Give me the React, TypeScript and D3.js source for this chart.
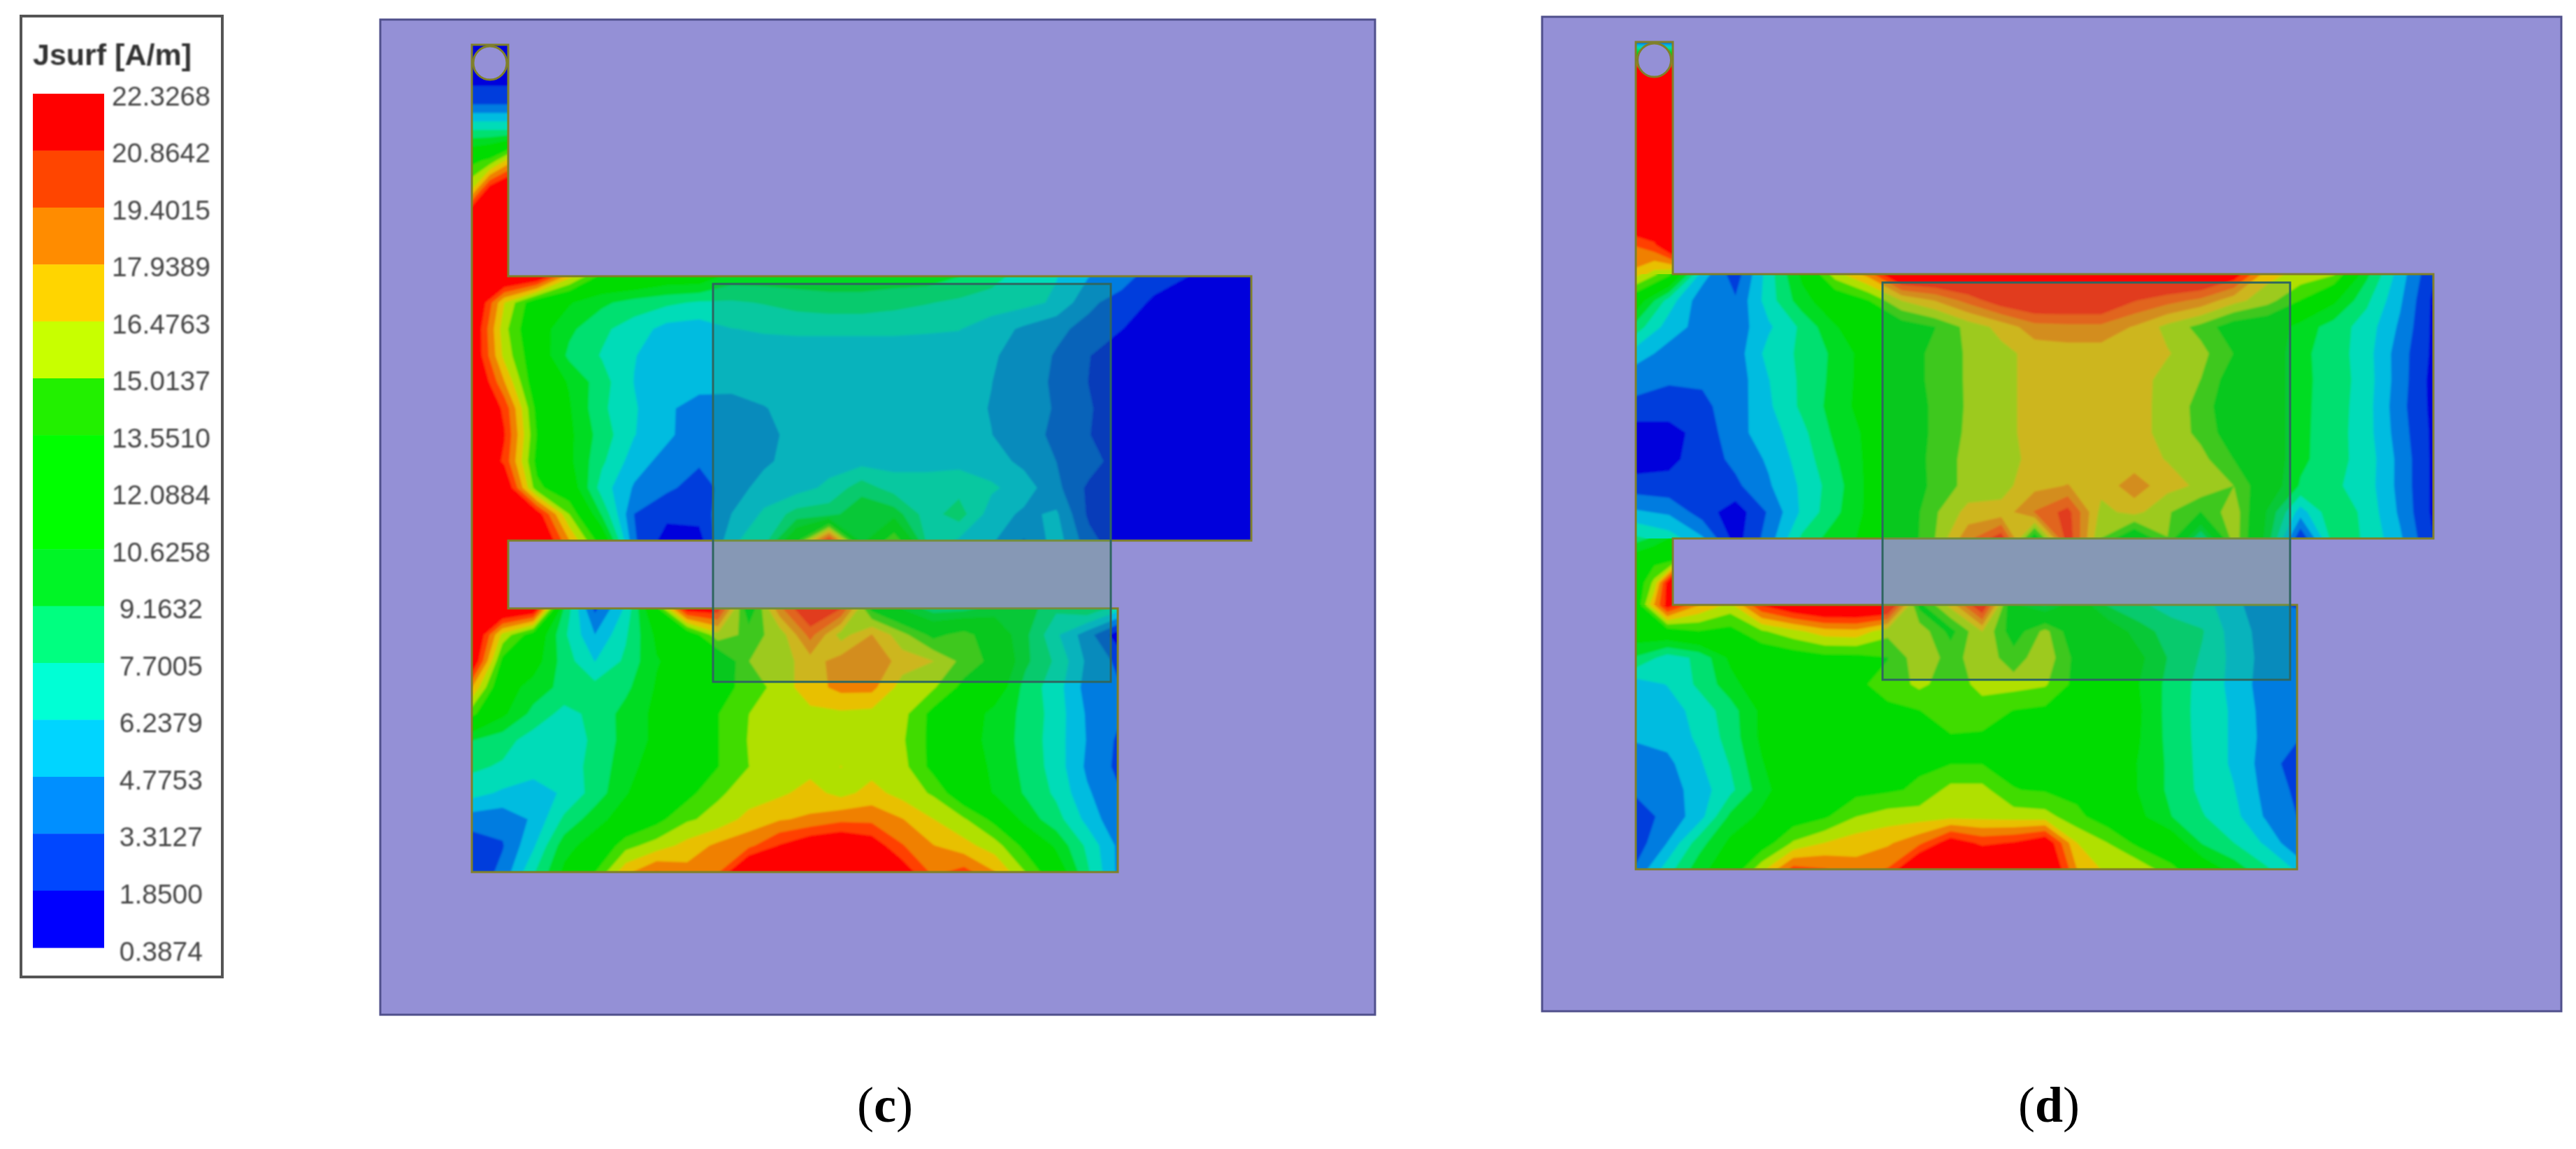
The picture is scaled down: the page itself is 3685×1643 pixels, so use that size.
import * as d3 from "d3";
import { useEffect } from "react";

// legend, top down in the picture
const legendLabels = ["22.3268", "20.8642", "19.4015", "17.9389", "16.4763", "15.0137", "13.5510", "12.0884", "10.6258", "9.1632", "7.7005", "6.2379", "4.7753", "3.3127", "1.8500", "0.3874"];
const legendColors = ["#ff0000", "#ff4500", "#ff8c00", "#ffd500", "#c8ff00", "#22f000", "#00ff00", "#00ff00", "#00f526", "#00ff80", "#00ffd5", "#00d5ff", "#008fff", "#0047ff", "#0000ff"];
// same bands as they come out on the plots (a bit darker than the legend)
const plotColors = ["#ff0000", "#ff4000", "#f08000", "#e8c000", "#b0e000", "#40dc00", "#00dc00", "#00dc00", "#00dc20", "#00e070", "#00dcb8", "#00bce0", "#007ce0", "#003cdc", "#0000dc"];

const levels = legendLabels.map(Number).reverse();
const bandColors = [...plotColors].reverse();

// Jsurf samples in A/m. Rows go top to bottom, columns left to right.
const feedC = [
  [1, 1, 1],
  [1, 1, 1],
  [3, 3, 3],
  [8, 8, 8],
  [13, 14, 17],
  [16.5, 22, 24],
  [24, 24, 24],
  [24, 24, 24],
  [24, 24, 24],
];
const linkC = [
  [24, 24, 24],
  [24, 24, 24],
];
const upperC = [
  [24, 24, 23, 17, 13, 13, 12, 12, 10, 10, 10, 10, 10, 10, 10, 9.2, 8.3, 7, 6.3, 4.8, 4, 2.5, 1.9, 1, 0.6],
  [24, 16.5, 12, 10.8, 9.5, 8.5, 8, 7.5, 7.5, 7.8, 8.3, 8.6, 8.6, 8.2, 7.8, 7.4, 7, 6.7, 6, 3.6, 2.7, 1.6, 0.8, 0.5, 0.4],
  [23, 15.5, 11.5, 9.5, 8, 7, 5.7, 5.5, 6.2, 6.4, 6.5, 6.5, 6.5, 6.5, 6.4, 6.3, 5.5, 4.5, 3.6, 2.9, 1.9, 0.9, 0.4, 0.4, 0.4],
  [23, 16, 12, 8.8, 7.6, 6.3, 5.5, 5.5, 5.5, 5.5, 5.5, 5.5, 5.5, 5.5, 5.5, 5.4, 5, 4, 3.2, 1.9, 0.8, 0.4, 0.4, 0.4, 0.4],
  [24, 18, 12, 10.5, 8.3, 6.2, 5.3, 5.3, 5.4, 5.4, 5.4, 5.4, 5.4, 5.4, 5.4, 5.4, 4.8, 3.9, 3.1, 1.8, 0.7, 0.4, 0.4, 0.4, 0.4],
  [24, 20.5, 13, 10.8, 8, 6.4, 5, 4.2, 4, 4.7, 5.3, 5.4, 5.4, 5.4, 5.4, 5.3, 4.7, 3.9, 3.2, 2, 0.8, 0.4, 0.4, 0.4, 0.4],
  [24, 21, 13.5, 11, 8.5, 6.3, 5.1, 3.8, 3.7, 4.2, 5.4, 5.4, 5.4, 5.4, 5.4, 5.4, 4.8, 3.9, 3, 1.9, 0.7, 0.4, 0.4, 0.4, 0.4],
  [24, 20.5, 13, 11, 8, 5.5, 4.2, 3.5, 3.6, 4.5, 5.4, 5.6, 5.7, 5.7, 5.7, 5.8, 5.4, 4.4, 3.3, 2.6, 0.9, 0.4, 0.4, 0.4, 0.4],
  [24, 23, 14, 12, 7, 4.6, 3.6, 2.7, 4, 5.4, 5.6, 6.6, 8.5, 7, 7, 7.2, 6.5, 5.5, 3.7, 1.5, 0.7, 0.4, 0.4, 0.4, 0.4],
  [24, 24, 22, 15, 9, 3.3, 2.2, 2.4, 4.8, 6.5, 8.3, 8.5, 10.5, 10, 7, 8.4, 5.5, 4.5, 5, 1.5, 0.6, 0.4, 0.4, 0.4, 0.4],
  [24, 24, 24, 18, 12.5, 3.5, 1.2, 1.2, 6, 7, 13, 22, 10, 15, 7.5, 6, 5, 3.2, 5.5, 2.4, 0.6, 0.4, 0.4, 0.4, 0.4],
];
const lowerC = [
  [24, 24, 23, 9, 3, 6.5, 13, 22, 22, 12, 19, 23, 21, 13, 10.5, 8.4, 8.6, 10, 10, 8, 9, 7],
  [24, 16, 12.5, 8, 4.8, 7.5, 11, 12, 16, 14.5, 15.5, 20, 15.8, 18, 15.5, 13, 14.3, 12, 9.5, 6.5, 4, 1],
  [23, 13, 11.5, 8.5, 6.2, 8, 10.5, 11.5, 11.5, 15, 15.7, 17.3, 18.6, 19.3, 17.2, 16.5, 14.5, 13, 9.5, 7.4, 4.5, 3],
  [18, 11.5, 10, 8.7, 8.2, 8.8, 10.8, 12, 13, 14, 15.7, 17.3, 18.4, 18.4, 15.8, 15.2, 13, 12, 8.6, 6.9, 4.2, 3.5],
  [14, 11, 8.7, 7.2, 8.1, 9.7, 11, 12.5, 13.5, 15, 15.8, 16.1, 16.2, 16, 15.5, 13, 12, 10, 8.8, 7, 4.6, 3.6],
  [9.2, 8.3, 7, 6.8, 8, 9.7, 11, 12.5, 13.5, 15.1, 15.7, 15.8, 15.8, 15.6, 15.2, 13, 11.5, 10, 8.7, 6.9, 4.7, 3.1],
  [8, 7.5, 7, 6.9, 8.2, 10, 11.5, 13, 13.5, 15, 15.8, 16, 16.5, 15.9, 15.5, 13, 12, 10.2, 8.8, 7, 4.5, 3],
  [6.8, 6, 5.4, 6.5, 8.3, 10.5, 12, 13, 14.8, 15.6, 16.2, 17, 16, 17, 15.9, 14.8, 12, 10.5, 9, 7.4, 5, 3.5],
  [4, 3.8, 5, 8, 10, 11.5, 13, 14.8, 15.5, 17, 17.8, 18.2, 19, 19, 18, 16.5, 15.2, 13, 10, 8.3, 5.8, 3.6],
  [2.5, 3.2, 6, 10, 11.5, 14.5, 15.7, 17, 18.3, 19, 21, 22.5, 23, 22, 19.5, 18, 17, 15.7, 13, 10.3, 7.4, 4.5],
  [2, 3.8, 7.5, 11, 13.5, 17.5, 19.5, 18.5, 19.2, 24, 24, 24, 24, 24, 22, 19, 20, 18, 15, 12, 8, 4.5],
];

const feedD = [
  [3, 3, 3],
  [24, 24, 24],
  [24, 24, 24],
  [24, 24, 24],
  [24, 24, 24],
  [24, 24, 24],
  [24, 24, 24],
  [19.5, 20.5, 24],
  [17.5, 15.8, 15],
];
const linkD = [
  [8.5, 9.5, 11],
  [12, 13, 13.5],
  [12, 15.5, 24],
  [12, 18, 23],
];
const upperD = [
  [17, 14, 5.5, 2.5, 7, 11, 15.8, 18.5, 24, 24, 24, 24, 24, 24, 24, 24, 24, 24, 22, 17, 16, 15.2, 9.5, 5.5, 2],
  [12, 7, 3.8, 3.5, 7, 10, 12, 13.5, 16.5, 18, 20, 22, 23, 23, 23, 21, 20, 19, 17, 15.6, 13.5, 11, 8, 5, 1.5],
  [8.5, 5.5, 4.2, 3.9, 6, 8, 10.5, 12, 12.5, 13.5, 15.5, 17, 18.8, 19, 19, 17.8, 16, 14.5, 12.5, 12, 10, 8.5, 7, 4.5, 1.5],
  [5.5, 4.2, 4, 4, 6.8, 8, 9.5, 11.5, 12.5, 14, 15.2, 16, 17, 17.2, 17.2, 17, 16.6, 15.5, 13.5, 12, 9.5, 8.5, 6.8, 4, 1.5],
  [3.8, 3.5, 3.5, 3.9, 6.2, 8, 9.6, 11.5, 12.5, 14, 15.2, 16, 17, 17.3, 17.3, 17.2, 15.9, 15, 12.5, 12, 9.5, 8.6, 6.9, 4, 1.3],
  [3, 2.6, 3, 4, 6, 8, 9.8, 11.5, 12.5, 13.8, 15.2, 16, 17, 17.3, 17.3, 17, 16, 14.5, 12, 12, 9.5, 8.5, 6.8, 3.8, 1.4],
  [1, 1.3, 2.4, 4.3, 5.5, 7.3, 9.5, 11, 12.5, 13.8, 15.3, 16, 17, 17.2, 17.2, 17, 16, 14.6, 12.5, 12, 9.5, 8.4, 6.8, 4, 1.5],
  [1, 1.5, 2.5, 3.7, 5, 6.9, 9, 11, 12.3, 14, 15.5, 16, 16.8, 17, 17.2, 17, 16.4, 15.5, 13.5, 12, 9.5, 8.3, 7, 4.3, 1.5],
  [2.5, 2.3, 2, 3, 4.6, 6.5, 8.5, 11, 12, 14, 15.5, 15.9, 17.5, 18, 17, 18.8, 17, 16.2, 15, 12, 9, 8, 6.9, 4.3, 1.5],
  [5, 4.5, 2.6, 1, 3.5, 6.5, 8.8, 11, 12, 14.8, 17, 17, 19.5, 21.5, 16, 17, 15.2, 13.5, 16, 10.5, 5.5, 9, 7.2, 4.5, 1.5],
  [8, 7, 5, 1.2, 4, 8, 10, 11, 12, 15, 19, 22, 12, 22, 15, 11.5, 15, 7.5, 16, 10, 2, 8.5, 7.5, 5, 1.8],
];
const lowerD = [
  [12, 22, 18, 16, 21, 23, 24, 24, 24, 13, 17, 23, 11, 9, 12, 9, 8, 7, 6.8, 5.3, 3.5, 3.2],
  [12, 12.5, 13.5, 13, 14.8, 16, 17.3, 17.5, 15.5, 16, 13, 16.5, 12.5, 15.5, 12, 12, 9.8, 8.5, 7.8, 5.5, 4.2, 4],
  [9, 7, 8, 11, 12, 12.5, 13, 13, 13.5, 16, 14.5, 15.8, 14.3, 16, 13, 12, 11, 8.9, 7.5, 5.8, 4.2, 4],
  [5.5, 6.3, 8, 10, 12, 12.5, 13, 13.3, 14, 15.4, 14.2, 15.5, 15.6, 15.2, 13, 12, 10.6, 8.6, 7.2, 5.8, 4, 3.8],
  [5.3, 5.5, 6.8, 8.5, 11, 12.5, 13, 13, 13.3, 13.5, 14.6, 14.4, 13.5, 13.2, 13, 12, 10.8, 8.5, 7.2, 6, 4.2, 3.8],
  [5, 5.3, 6.5, 8.3, 11, 12.5, 13, 13, 13.2, 13.2, 13.4, 13.3, 13.2, 13.1, 13, 12, 10.7, 8.6, 7.2, 6, 4.3, 3.5],
  [3.9, 4.4, 6, 7.8, 10.5, 12.5, 13, 13, 13.2, 13.3, 13.5, 13.5, 13.2, 13, 13, 12, 10.5, 8.8, 7.2, 6, 4.1, 2.5],
  [3.6, 4, 5.5, 7.3, 10, 12, 13, 13, 13.3, 13.8, 15.5, 15.5, 13.6, 13.4, 13, 12.3, 10.5, 8.8, 7.3, 6.3, 4.3, 3],
  [2.5, 3.8, 5.5, 9.5, 11, 12.5, 13.3, 15, 15.7, 15.8, 16, 16, 15.8, 15.6, 14, 12.5, 11, 9.2, 7.8, 6.7, 4.6, 3.3],
  [2.5, 4.8, 8.5, 11, 12.5, 15.2, 16.5, 17.3, 17.7, 19, 22, 20.5, 21, 22.5, 16.5, 15, 13, 12, 9, 7.7, 6, 3.5],
  [3.5, 7, 10, 12, 16, 20, 19.5, 18.5, 19.5, 24, 24, 24, 24, 24, 18, 16, 16, 14, 12, 10, 8, 6],
];

const WIDTH = 3685;
const HEIGHT = 1643;
const BG = "#9490d6";
const EDGE = "#80802a";

const panelC = { id: "c", x0: 544, x1: 1967, y0: 28, y1: 1451, feedL: 675, feedR: 727, feedT: 64, upT: 395, upB: 773, upR: 1790, lowT: 870, lowB: 1247, lowR: 1599, ovL: 1020, ovR: 1589, ovT: 406, ovB: 975, cy: 90, labelX: 1266 };
const panelD = { id: "d", x0: 2206, x1: 3664, y0: 24, y1: 1446, feedL: 2340, feedR: 2393, feedT: 60, upT: 392, upB: 770, upR: 3481, lowT: 865, lowB: 1243, lowR: 3286, ovL: 2693, ovR: 3276, ovT: 404, ovB: 972, cy: 86, labelX: 2931 };

type Panel = typeof panelC;

// filled contour bands of one sampled region, stretched over a pixel box
function FieldBands({ rows, x0, x1, y0, y1, id }: { rows: number[][]; x0: number; x1: number; y0: number; y1: number; id: string }) {
  const n = rows[0].length;
  const m = rows.length;
  const contours = d3.contours().size([n, m]).thresholds(levels.slice(1, -1))(rows.flat());
  const xs = d3.scaleLinear([0.5, n - 0.5], [x0, x1]);
  const ys = d3.scaleLinear([0.5, m - 0.5], [y0, y1]);
  const path = d3.geoPath(
    d3.geoTransform({
      point(x, y) {
        this.stream.point(xs(x), ys(y));
      },
    })
  );
  return (
    <g clipPath={`url(#${id})`}>
      <clipPath id={id}>
        <rect x={x0} y={y0} width={x1 - x0} height={y1 - y0} />
      </clipPath>
      <g filter="url(#soft)">
        <rect x={x0 - 10} y={y0 - 10} width={x1 - x0 + 20} height={y1 - y0 + 20} fill={bandColors[0]} />
        {contours.map((c, i) => (
          <path key={i} d={path(c) ?? ""} fill={bandColors[i + 1]} />
        ))}
      </g>
    </g>
  );
}

function outline(p: Panel) {
  const o = d3.path();
  o.moveTo(p.feedL, p.feedT);
  o.lineTo(p.feedR, p.feedT);
  o.lineTo(p.feedR, p.upT);
  o.lineTo(p.upR, p.upT);
  o.lineTo(p.upR, p.upB);
  o.lineTo(p.feedR, p.upB);
  o.lineTo(p.feedR, p.lowT);
  o.lineTo(p.lowR, p.lowT);
  o.lineTo(p.lowR, p.lowB);
  o.lineTo(p.feedL, p.lowB);
  o.closePath();
  return o.toString();
}

function AntennaPanel({ p, feed, link, upper, lower }: { p: Panel; feed: number[][]; link: number[][]; upper: number[][]; lower: number[][] }) {
  const box = { x: p.ovL, y: p.ovT, width: p.ovR - p.ovL, height: p.ovB - p.ovT };
  return (
    <g style={{ isolation: "isolate" }}>
      <rect x={p.x0} y={p.y0} width={p.x1 - p.x0} height={p.y1 - p.y0} fill={BG} stroke="#50508c" strokeWidth={3} />
      <FieldBands id={`feed-${p.id}`} rows={feed} x0={p.feedL} x1={p.feedR} y0={p.feedT} y1={p.upT} />
      <FieldBands id={`link-${p.id}`} rows={link} x0={p.feedL} x1={p.feedR} y0={p.upB} y1={p.lowT} />
      <FieldBands id={`upper-${p.id}`} rows={upper} x0={p.feedL} x1={p.upR} y0={p.upT} y1={p.upB} />
      <FieldBands id={`lower-${p.id}`} rows={lower} x0={p.feedL} x1={p.lowR} y0={p.lowT} y1={p.lowB} />
      <path d={outline(p)} fill="none" stroke={EDGE} strokeWidth={3} />
      <circle cx={(p.feedL + p.feedR) / 2} cy={p.cy} r={24} fill={BG} stroke={EDGE} strokeWidth={3} />
      {/* the translucent sheet darkens what is under it and lifts green and blue a little */}
      <rect {...box} fill="#e0d4cc" style={{ mixBlendMode: "multiply" }} />
      <rect {...box} fill="#083c1e" style={{ mixBlendMode: "screen" }} />
      <rect {...box} fill="none" stroke="#2f6660" strokeWidth={3} />
      <text x={p.labelX} y={1604} textAnchor="middle" fontFamily="'Liberation Serif', serif" fontSize={72} fill="#000">
        (<tspan fontWeight="bold">{p.id}</tspan>)
      </text>
    </g>
  );
}

function Legend() {
  const barY = d3.scaleLinear([0, plotColors.length], [134, 1355]);
  const labelY = d3.scaleLinear([0, legendLabels.length - 1], [137, 1360]);
  return (
    <g fontFamily="'Liberation Sans', Arial, sans-serif">
      <rect x={30} y={23} width={288} height={1374} fill="#fff" stroke="#555" strokeWidth={4} />
      <g filter="url(#softText)">
        <text x={47} y={93} fontSize={43} fontWeight="bold" fill="#333">
          Jsurf [A/m]
        </text>
        {legendLabels.map((t, i) => (
          <text key={t} x={t.length > 6 ? 301 : 290} y={labelY(i)} textAnchor="end" dominantBaseline="central" fontSize={39} fill="#444">
            {t}
          </text>
        ))}
      </g>
      {legendColors.map((c, i) => (
        <rect key={c + i} x={47} y={barY(i)} width={102} height={barY(i + 1) - barY(i) + 0.5} fill={c} />
      ))}
    </g>
  );
}

export default function App() {
  useEffect(() => {
    document.body.style.margin = "0";
  }, []);
  return (
    <svg width={WIDTH} height={HEIGHT} viewBox={`0 0 ${WIDTH} ${HEIGHT}`} style={{ display: "block", position: "absolute", left: 0, top: 0, background: "#fff" }}>
      <defs>
        <filter id="soft" x="-2%" y="-2%" width="104%" height="104%">
          <feGaussianBlur stdDeviation={1.4} />
        </filter>
        <filter id="softText" x="-5%" y="-5%" width="110%" height="110%">
          <feGaussianBlur stdDeviation={0.8} />
        </filter>
      </defs>
      <Legend />
      <AntennaPanel p={panelC} feed={feedC} link={linkC} upper={upperC} lower={lowerC} />
      <AntennaPanel p={panelD} feed={feedD} link={linkD} upper={upperD} lower={lowerD} />
    </svg>
  );
}
